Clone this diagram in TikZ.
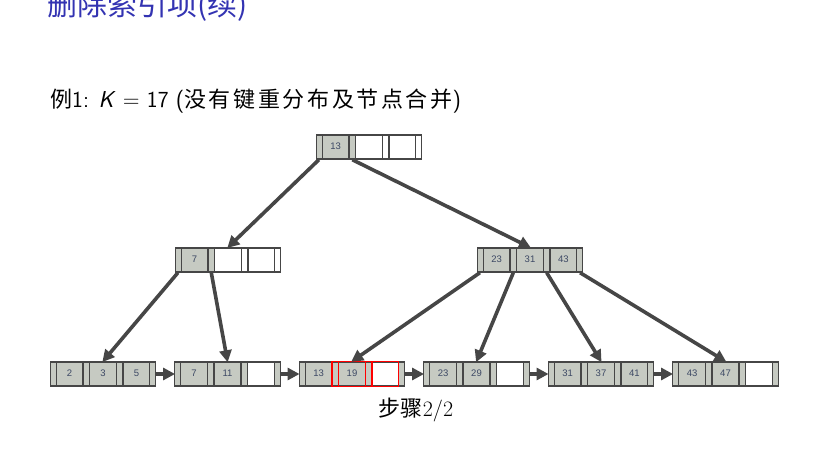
\documentclass[tikz,border=0pt]{standalone}
\usepackage{fontspec}
\newfontfamily\cjk{Noto Sans CJK SC}
\newfontfamily\cjkwide[LetterSpace=12]{Noto Sans CJK SC}
\newfontfamily\cellfont{Liberation Sans}
\usetikzlibrary{positioning, shapes.multipart, arrows.meta}

\definecolor{cellgray}{RGB}{198,202,194}
\definecolor{edgegray}{RGB}{70,70,70}
\definecolor{keytext}{RGB}{60,72,100}
\definecolor{titleblue}{RGB}{51,51,178}

\newcommand{\ptrcell}{\makebox[5.3pt]{}}
\newcommand{\keycell}[1]{\makebox[25.3pt]{\strut #1}}

\begin{document}
\begin{tikzpicture}[x=1pt, y=-1pt,
    bnode/.style={rectangle split, rectangle split horizontal, rectangle split parts=7,
      draw=edgegray, line width=1.4pt, inner xsep=0pt, inner ysep=0pt,
      minimum height=24pt, font=\cellfont\fontsize{9.5}{10}\selectfont, text=keytext},
    full/.style={rectangle split part fill={cellgray,cellgray,cellgray,cellgray,cellgray,cellgray,cellgray}},
    onekey/.style={rectangle split part fill={cellgray,cellgray,cellgray,white,white,white,white}},
    twoleaf/.style={rectangle split part fill={cellgray,cellgray,cellgray,cellgray,cellgray,white,cellgray}},
    link/.style={draw=edgegray, line width=3.6pt, -{Triangle[length=12pt, width=12pt]}, shorten >=-1pt}]

    % Frame
    \useasboundingbox (0,0) rectangle (822,456);

    % Texts
    \node[anchor=base west, text=titleblue, font=\cjk\fontsize{30}{32}\selectfont, inner sep=0pt]
        (title) at (47,15) {删除索引项(续)};
    \node[anchor=base west, font=\sffamily\fontsize{23}{26}\selectfont, inner sep=0pt]
        (example) at (50,107) {{\cjk\fontsize{22}{26}\selectfont 例}1: \textit{K} = 17
        ({\cjkwide\fontsize{22}{26}\selectfont 没有键重分布及节点合并})};
    \node[font=\fontsize{22}{26}\selectfont, inner sep=0pt]
        (stepno) at (416,410) {{\cjk 步骤}2/2};

    % Inner nodes
    \node[bnode, onekey] (root) at (369,147)
        {\ptrcell\nodepart{two}\keycell{13}\nodepart{three}\ptrcell\nodepart{four}\keycell{}%
         \nodepart{five}\ptrcell\nodepart{six}\keycell{}\nodepart{seven}\ptrcell};
    \node[bnode, onekey] (n7) at (228,260)
        {\ptrcell\nodepart{two}\keycell{7}\nodepart{three}\ptrcell\nodepart{four}\keycell{}%
         \nodepart{five}\ptrcell\nodepart{six}\keycell{}\nodepart{seven}\ptrcell};
    \node[bnode, full] (n23) at (530,260)
        {\ptrcell\nodepart{two}\keycell{23}\nodepart{three}\ptrcell\nodepart{four}\keycell{31}%
         \nodepart{five}\ptrcell\nodepart{six}\keycell{43}\nodepart{seven}\ptrcell};

    % Leaves
    \node[bnode, full] (l1) at (103,374)
        {\ptrcell\nodepart{two}\keycell{2}\nodepart{three}\ptrcell\nodepart{four}\keycell{3}%
         \nodepart{five}\ptrcell\nodepart{six}\keycell{5}\nodepart{seven}\ptrcell};
    \node[bnode, twoleaf] (l2) at (227.5,374)
        {\ptrcell\nodepart{two}\keycell{7}\nodepart{three}\ptrcell\nodepart{four}\keycell{11}%
         \nodepart{five}\ptrcell\nodepart{six}\keycell{}\nodepart{seven}\ptrcell};
    \node[bnode, twoleaf] (l3) at (352,374)
        {\ptrcell\nodepart{two}\keycell{13}\nodepart{three}\ptrcell\nodepart{four}\keycell{19}%
         \nodepart{five}\ptrcell\nodepart{six}\keycell{}\nodepart{seven}\ptrcell};
    \node[bnode, twoleaf] (l4) at (476.5,374)
        {\ptrcell\nodepart{two}\keycell{23}\nodepart{three}\ptrcell\nodepart{four}\keycell{29}%
         \nodepart{five}\ptrcell\nodepart{six}\keycell{}\nodepart{seven}\ptrcell};
    \node[bnode, full] (l5) at (601,374)
        {\ptrcell\nodepart{two}\keycell{31}\nodepart{three}\ptrcell\nodepart{four}\keycell{37}%
         \nodepart{five}\ptrcell\nodepart{six}\keycell{41}\nodepart{seven}\ptrcell};
    \node[bnode, twoleaf] (l6) at (725.5,374)
        {\ptrcell\nodepart{two}\keycell{43}\nodepart{three}\ptrcell\nodepart{four}\keycell{47}%
         \nodepart{five}\ptrcell\nodepart{six}\keycell{}\nodepart{seven}\ptrcell};

    % Changed entry
    \draw[red, line width=1.2pt] (l3.two split north) rectangle (l3.six split south);
    \draw[red, line width=1.2pt] (l3.three split north) -- (l3.three split south);
    \draw[red, line width=1.2pt] (l3.four split north) -- (l3.four split south);
    \draw[red, line width=1.2pt] (l3.five split north) -- (l3.five split south);

    % Tree pointers
    \draw[link] (root.one south) -- (n7.north);
    \draw[link] (root.three south) -- (n23.north);
    \draw[link] (n7.one south) -- (l1.north);
    \draw[link] (n7.three south) -- (l2.north);
    \draw[link] (n23.one south) -- (l3.north);
    \draw[link] (n23.three south) -- (l4.north);
    \draw[link] (n23.five south) -- (l5.north);
    \draw[link] (n23.seven south) -- (l6.north);

    % Leaf chain
    \draw[link] (l1.east) -- (l2.west);
    \draw[link] (l2.east) -- (l3.west);
    \draw[link] (l3.east) -- (l4.west);
    \draw[link] (l4.east) -- (l5.west);
    \draw[link] (l5.east) -- (l6.west);
\end{tikzpicture}
\end{document}
